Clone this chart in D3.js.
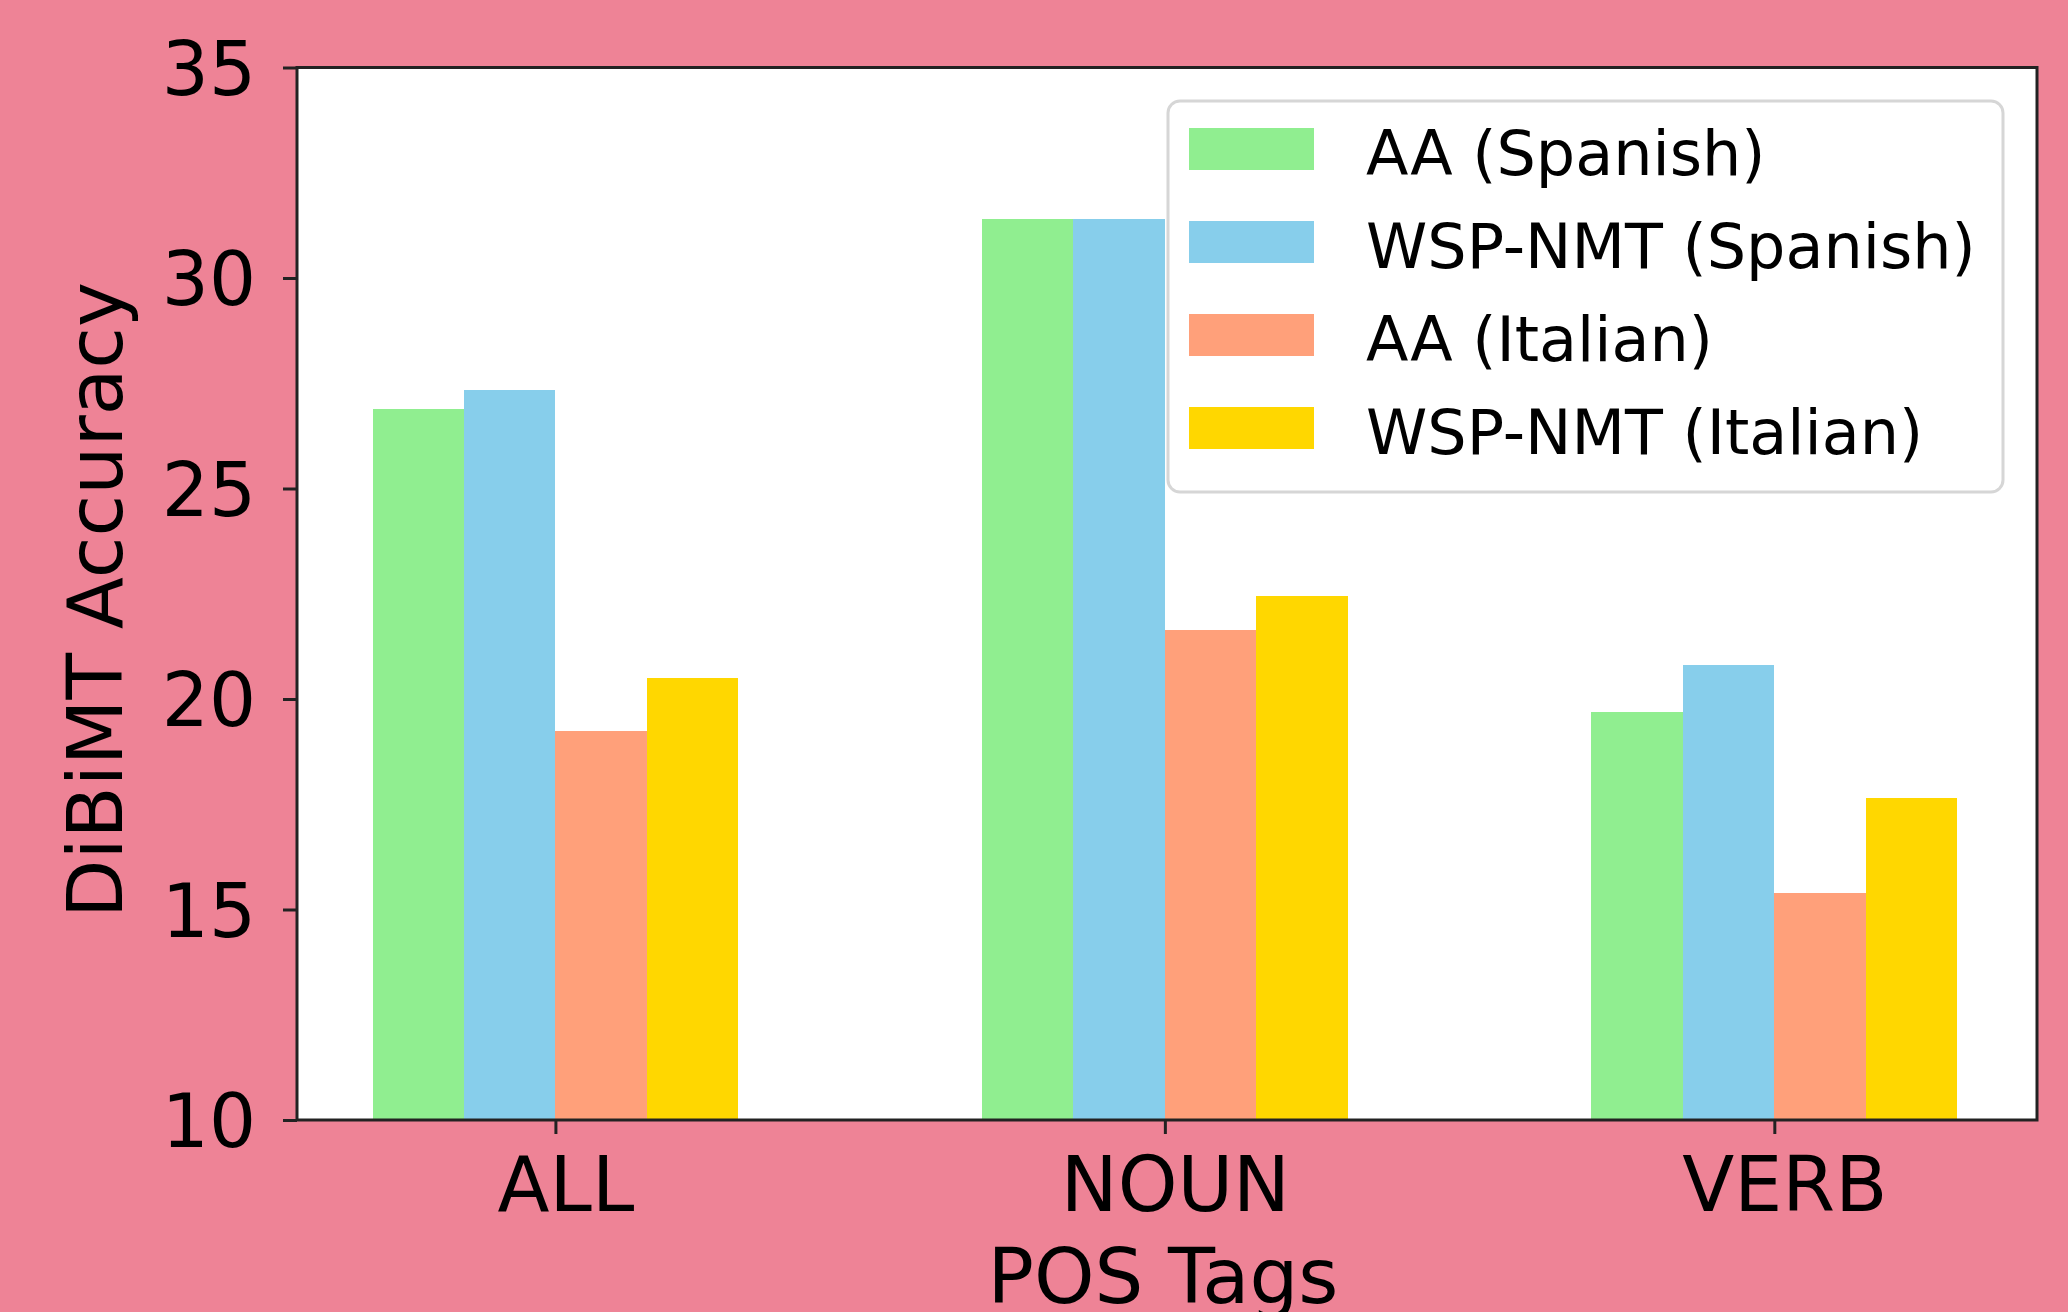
<!DOCTYPE html>
<html>
<head>
<meta charset="utf-8">
<script src="https://cdn.jsdelivr.net/npm/d3@7"></script>
<style>
  html, body { margin: 0; padding: 0; background: #EE8396; }
  svg { display: block; }
  text { font-family: "DejaVu Sans", sans-serif; fill: #000; }
</style>
</head>
<body>
<svg id="chart" width="2068" height="1312"></svg>
<script>
// ---- data ----
const categories = ["ALL", "NOUN", "VERB"];
const seriesNames = ["AA (Spanish)", "WSP-NMT (Spanish)", "AA (Italian)", "WSP-NMT (Italian)"];
const seriesColors = ["#90EE90", "#87CEEB", "#FFA07A", "#FFD700"];
const aaSpanish = [26.9, 31.4, 19.7];
const wspSpanish = [27.35, 31.4, 20.8];
const aaItalian = [19.25, 21.65, 15.4];
const wspItalian = [20.5, 22.45, 17.65];
const seriesValues = [aaSpanish, wspSpanish, aaItalian, wspItalian];
const yTicks = [10, 15, 20, 25, 30, 35];
const xLabel = "POS Tags";
const yLabel = "DiBiMT Accuracy";

// ---- layout ----
const W = 2068, H = 1312;
const plot = { left: 297, right: 2037, top: 67.5, bottom: 1120 };
const barW = 0.15;

const svg = d3.select("#chart");
svg.append("rect").attr("width", W).attr("height", H).attr("fill", "#EE8396");

const x = d3.scaleLinear().domain([-0.424, 2.431]).range([plot.left, plot.right]);
const y = d3.scaleLinear().domain([10, 35]).range([plot.bottom, plot.top]);

// plot background
svg.append("rect")
  .attr("x", plot.left).attr("y", plot.top)
  .attr("width", plot.right - plot.left).attr("height", plot.bottom - plot.top)
  .attr("fill", "#ffffff");

// bars
const barData = [];
seriesValues.forEach((vals, s) => {
  vals.forEach((v, i) => {
    barData.push({ s, i, v, x0: i + (s - 2) * barW, x1: i + (s - 1) * barW });
  });
});
svg.append("g").selectAll("rect").data(barData).join("rect")
  .attr("x", d => x(d.x0))
  .attr("width", d => x(d.x1) - x(d.x0))
  .attr("y", d => y(d.v))
  .attr("height", d => y(10) - y(d.v))
  .attr("fill", d => seriesColors[d.s])
  .attr("shape-rendering", "crispEdges");

// axes
const yAxis = d3.axisLeft(y).tickValues(yTicks).tickSize(14).tickPadding(27).tickFormat(d3.format("d"));
const gy = svg.append("g").attr("transform", `translate(${plot.left},0)`).call(yAxis);
gy.select(".domain").remove();
gy.selectAll("line").attr("stroke", "#222").attr("stroke-width", 3);
gy.selectAll("text").attr("font-size", 74).attr("dy", "0.36em").attr("fill", "#000");

const xAxis = d3.axisBottom(x).tickValues([0, 1, 2]).tickSize(14).tickPadding(23).tickFormat(i => categories[i]);
const gx = svg.append("g").attr("transform", `translate(0,${plot.bottom})`).call(xAxis);
gx.select(".domain").remove();
gx.selectAll("line").attr("stroke", "#222").attr("stroke-width", 3);
gx.selectAll("text").attr("font-size", 76).attr("dx", 10).attr("fill", "#000");

// spines
svg.append("rect")
  .attr("x", plot.left).attr("y", plot.top)
  .attr("width", plot.right - plot.left).attr("height", plot.bottom - plot.top)
  .attr("fill", "none").attr("stroke", "#222").attr("stroke-width", 3);

// axis labels
svg.append("text")
  .attr("x", 1163).attr("y", 1303)
  .attr("text-anchor", "middle").attr("font-size", 77)
  .text(xLabel);
svg.append("text")
  .attr("transform", `translate(122,600) rotate(-90)`)
  .attr("text-anchor", "middle").attr("font-size", 76)
  .text(yLabel);

// legend
const lg = svg.append("g");
lg.append("rect")
  .attr("x", 1168).attr("y", 101).attr("width", 835).attr("height", 391)
  .attr("rx", 12).attr("ry", 12)
  .attr("fill", "#ffffff").attr("fill-opacity", 0.8)
  .attr("stroke", "#d6d6d6").attr("stroke-width", 3);
const rows = lg.selectAll("g.row").data(seriesNames).join("g").attr("class", "row")
  .attr("transform", (d, i) => `translate(0,${149 + i * 93})`);
rows.append("rect")
  .attr("x", 1189).attr("y", -21).attr("width", 125).attr("height", 42)
  .attr("fill", (d, i) => seriesColors[i]);
rows.append("text")
  .attr("x", 1366).attr("y", 26).attr("font-size", 62)
  .text(d => d);
</script>
</body>
</html>
